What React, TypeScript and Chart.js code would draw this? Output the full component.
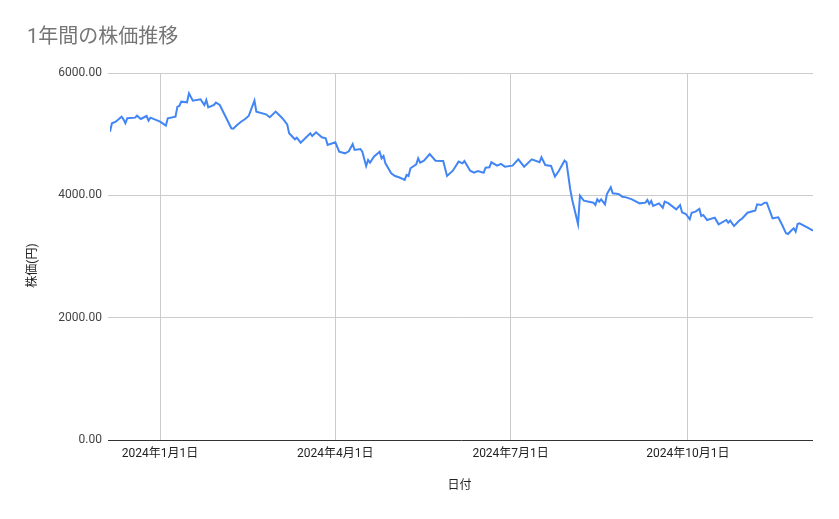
import React, { useEffect, useRef } from "react";
import { Chart, registerables } from "chart.js";

Chart.register(...registerables);

const chartTitle = "1年間の株価推移";
const xAxisTitle = "日付";
const yAxisTitle = "株価(円)";

const dates = [
  "2023-12-06", "2023-12-07", "2023-12-09", "2023-12-12", "2023-12-13", "2023-12-14", "2023-12-15", "2023-12-19", "2023-12-20", "2023-12-22",
  "2023-12-25", "2023-12-26", "2023-12-27", "2024-01-01", "2024-01-04", "2024-01-05", "2024-01-09", "2024-01-10", "2024-01-11", "2024-01-12",
  "2024-01-15", "2024-01-16", "2024-01-18", "2024-01-22", "2024-01-24", "2024-01-25", "2024-01-26", "2024-01-29", "2024-01-30", "2024-02-01",
  "2024-02-07", "2024-02-08", "2024-02-10", "2024-02-12", "2024-02-14", "2024-02-16", "2024-02-19", "2024-02-20", "2024-02-25", "2024-02-27",
  "2024-03-01", "2024-03-04", "2024-03-05", "2024-03-07", "2024-03-08", "2024-03-11", "2024-03-12", "2024-03-14", "2024-03-19", "2024-03-20",
  "2024-03-22", "2024-03-25", "2024-03-27", "2024-03-28", "2024-04-01", "2024-04-03", "2024-04-06", "2024-04-08",
  "2024-04-10", "2024-04-11", "2024-04-14", "2024-04-15", "2024-04-17", "2024-04-18", "2024-04-19", "2024-04-21", "2024-04-24", "2024-04-25",
  "2024-04-26", "2024-04-27", "2024-04-30", "2024-05-02", "2024-05-04", "2024-05-07", "2024-05-08", "2024-05-09", "2024-05-10", "2024-05-13",
  "2024-05-14", "2024-05-15", "2024-05-17", "2024-05-20", "2024-05-23", "2024-05-27", "2024-05-29", "2024-06-01", "2024-06-04", "2024-06-06",
  "2024-06-07",
  "2024-06-10", "2024-06-12", "2024-06-14", "2024-06-17", "2024-06-18", "2024-06-20", "2024-06-21", "2024-06-24", "2024-06-26", "2024-06-28",
  "2024-07-02", "2024-07-05", "2024-07-08", "2024-07-12", "2024-07-16", "2024-07-17", "2024-07-19", "2024-07-22", "2024-07-24", "2024-07-26",
  "2024-07-29", "2024-07-30", "2024-08-01", "2024-08-02", "2024-08-05", "2024-08-06",
  "2024-08-08", "2024-08-13", "2024-08-14", "2024-08-15", "2024-08-16", "2024-08-17", "2024-08-19", "2024-08-20", "2024-08-22", "2024-08-23",
  "2024-08-26", "2024-08-28", "2024-08-30", "2024-09-02", "2024-09-06", "2024-09-09", "2024-09-10", "2024-09-11", "2024-09-12", "2024-09-13",
  "2024-09-16", "2024-09-18", "2024-09-19", "2024-09-21", "2024-09-25", "2024-09-27", "2024-09-28", "2024-09-30", "2024-10-02", "2024-10-03",
  "2024-10-05", "2024-10-07", "2024-10-08", "2024-10-09", "2024-10-11", "2024-10-15", "2024-10-17", "2024-10-21", "2024-10-22", "2024-10-23",
  "2024-10-25", "2024-10-28", "2024-10-29", "2024-11-01", "2024-11-04", "2024-11-05", "2024-11-06", "2024-11-08", "2024-11-10", "2024-11-11",
  "2024-11-14", "2024-11-17", "2024-11-19", "2024-11-21", "2024-11-22", "2024-11-24", "2024-11-25", "2024-11-26", "2024-11-27", "2024-11-28",
  "2024-12-02", "2024-12-05",
];

const prices = [
  5041, 5178, 5204, 5286, 5243, 5178, 5260, 5270, 5302, 5248,
  5297, 5221, 5270, 5204, 5139, 5260, 5286, 5450, 5461, 5531,
  5521, 5668, 5548, 5570, 5477, 5559, 5439, 5477, 5515, 5477,
  5096, 5090, 5150, 5204, 5243, 5297, 5548, 5368, 5325, 5276,
  5368, 5276, 5243, 5161, 5014, 4916, 4942, 4861, 5014, 4970,
  5030, 4949, 4932, 4823, 4867, 4714, 4687, 4720,
  4840, 4742, 4758, 4714, 4480, 4578, 4534, 4632, 4714, 4605,
  4643, 4523, 4360, 4316, 4295, 4251, 4333, 4316, 4442, 4507,
  4605, 4534, 4567, 4676, 4567, 4561, 4316, 4403, 4551, 4523,
  4561,
  4403, 4370, 4398, 4370, 4452, 4458, 4540, 4485, 4513, 4469,
  4485, 4589, 4469, 4589, 4540, 4622, 4496, 4480, 4305, 4398,
  4567, 4540, 4088, 3924, 3530, 3994,
  3913, 3880, 3842, 3935, 3896, 3935, 3853, 4022, 4132, 4034,
  4022, 3978, 3967, 3935, 3869, 3880, 3924, 3858, 3907, 3826,
  3869, 3798, 3896, 3869, 3771, 3842, 3722, 3695, 3608, 3716,
  3733, 3777, 3662, 3679, 3597, 3635, 3526, 3597, 3553, 3586,
  3499, 3597, 3613, 3716, 3744, 3749, 3853, 3842, 3880, 3880,
  3624, 3641, 3515, 3379, 3368, 3434, 3461, 3406, 3532, 3543,
  3477, 3423,
];

const xRangeStart = "2023-12-06";
const xRangeEnd = "2024-12-05";
const tickDates = ["2024-01-01", "2024-04-01", "2024-07-01", "2024-10-01"];
const tickLabels = ["2024年1月1日", "2024年4月1日", "2024年7月1日", "2024年10月1日"];
const yTickValues = [0, 2000, 4000, 6000];

const dayOf = (s: string) => {
  const [y, m, d] = s.split("-").map(Number);
  return (Date.UTC(y, m - 1, d) - Date.UTC(2024, 0, 1)) / 86400000;
};

const FONT = "Roboto, 'Noto Sans CJK JP', sans-serif";

export default function App() {
  const ref = useRef<HTMLCanvasElement | null>(null);

  useEffect(() => {
    document.body.style.margin = "0";
    const canvas = ref.current;
    if (!canvas) return;

    const textPlugin = {
      id: "extraTexts",
      afterDraw(chart: any) {
        const { ctx, chartArea } = chart;
        ctx.save();
        ctx.fillStyle = "#757575";
        ctx.font = `20px ${FONT}`;
        ctx.textAlign = "left";
        ctx.textBaseline = "middle";
        ctx.fillText(chartTitle, 27, chartArea.top - 35);

        ctx.fillStyle = "#222222";
        ctx.font = `12px ${FONT}`;
        ctx.textAlign = "center";
        ctx.fillText(xAxisTitle, (chartArea.left + chartArea.right) / 2 - 2, chartArea.bottom + 46);

        ctx.translate(32.5, (chartArea.top + chartArea.bottom) / 2 + 9);
        ctx.rotate(-Math.PI / 2);
        ctx.fillText(yAxisTitle, 0, 0);
        ctx.restore();
      },
    };

    const chart = new Chart(canvas, {
      type: "line",
      data: {
        datasets: [
          {
            data: dates.map((d, i) => ({ x: dayOf(d), y: prices[i] })),
            borderColor: "#4285F4",
            borderWidth: 2,
            pointRadius: 0,
            tension: 0,
            fill: false,
          },
        ],
      },
      options: {
        responsive: false,
        animation: false,
        layout: { padding: { top: 73, right: 26, left: 0, bottom: 0 } },
        plugins: {
          legend: { display: false },
          tooltip: { enabled: false },
          title: { display: false },
        },
        scales: {
          x: {
            type: "linear",
            min: dayOf(xRangeStart),
            max: dayOf(xRangeEnd),
            afterBuildTicks: (s: any) => {
              s.ticks = tickDates.map((d) => ({ value: dayOf(d) }));
            },
            afterFit: (s: any) => {
              s.height = 79;
            },
            grid: { color: "#cccccc", drawTicks: false, lineWidth: 1 },
            border: { display: false },
            ticks: {
              autoSkip: false,
              maxRotation: 0,
              padding: 7,
              color: "#222222",
              font: { family: FONT, size: 12 },
              callback: (v: any) => {
                const i = tickDates.findIndex((d) => dayOf(d) === Number(v));
                return i >= 0 ? tickLabels[i] : "";
              },
            },
          },
          y: {
            type: "linear",
            min: 0,
            max: 6000,
            afterBuildTicks: (s: any) => {
              s.ticks = yTickValues.map((v) => ({ value: v }));
            },
            afterFit: (s: any) => {
              s.width = 110;
            },
            grid: {
              color: (c: any) => (c.tick && c.tick.value === 0 ? "#333333" : "#cccccc"),
              tickLength: 2,
              lineWidth: 1,
            },
            border: { display: false },
            ticks: {
              padding: 6,
              color: "#444444",
              font: { family: FONT, size: 12 },
              callback: (v: any) => Number(v).toFixed(2),
            },
          },
        },
      },
      plugins: [textPlugin],
    } as any);

    return () => chart.destroy();
  }, []);

  return <canvas ref={ref} width={839} height={519} style={{ display: "block" }} />;
}
